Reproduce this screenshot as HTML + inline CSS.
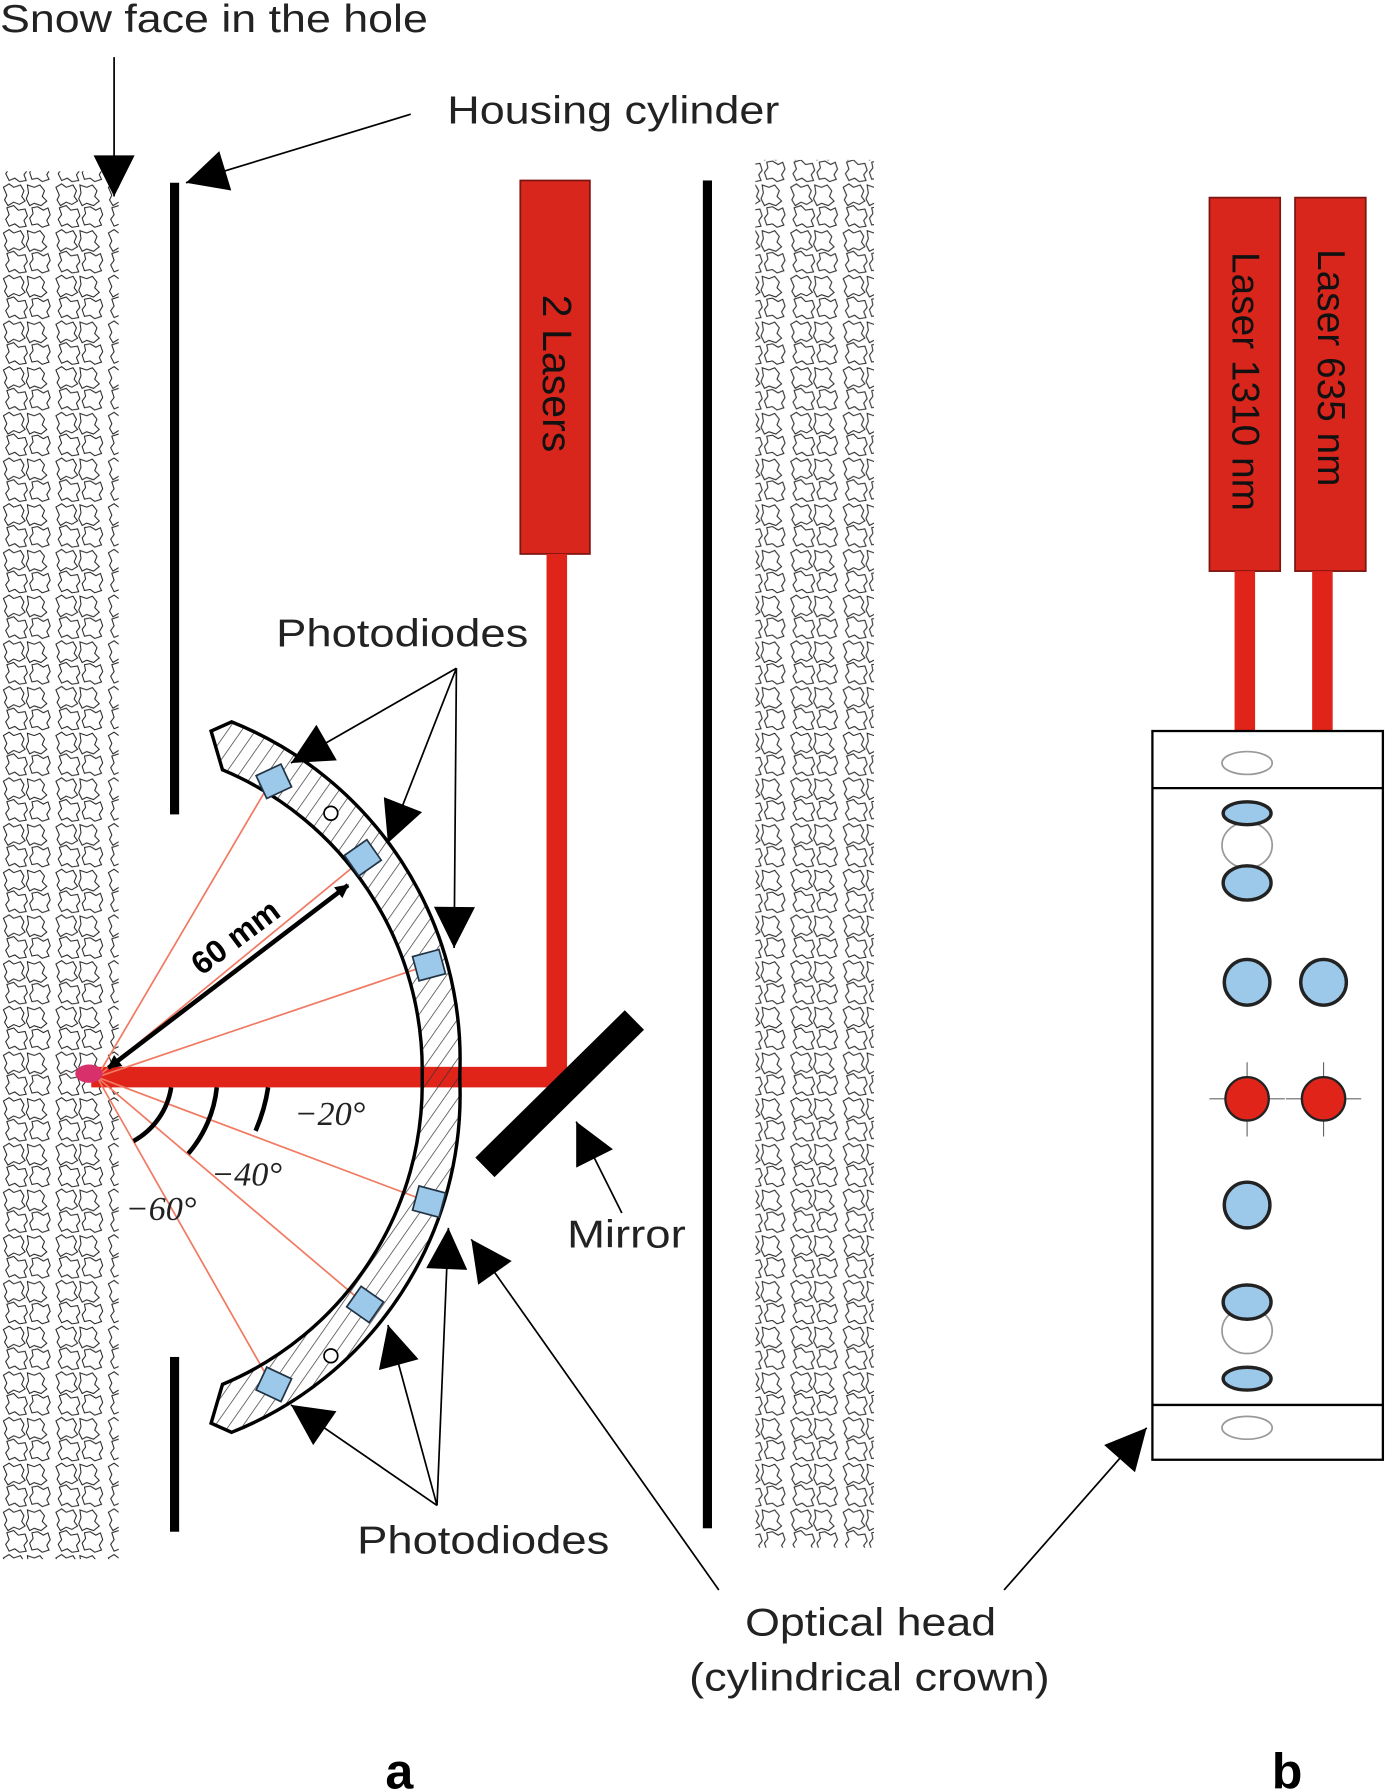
<!DOCTYPE html>
<html><head><meta charset="utf-8"><style>html,body{margin:0;padding:0;background:#fff}svg{display:block}</style></head>
<body>
<svg width="1400" height="1791" viewBox="0 0 1227 1568" preserveAspectRatio="none" xmlns="http://www.w3.org/2000/svg" font-family="Liberation Sans, sans-serif">
<defs>
<pattern id="snow" width="46" height="40" patternUnits="userSpaceOnUse">
<path d="M3 4 l5 -3 l4 3 l6 -2 l3 5 l-2 5 l3 4 l-5 3 l-5 -2 l-5 3 l-3 -5 l2 -4 z" fill="none" stroke="#222" stroke-width="0.9"/>
<path d="M24 2 l6 2 l5 -2 l4 5 l-2 5 l4 4 l-5 4 l-6 -2 l-4 2 l-3 -6 l2 -5 z" fill="none" stroke="#222" stroke-width="0.9"/>
<path d="M6 22 l6 -2 l4 4 l6 -1 l2 6 l-3 4 l2 5 l-6 1 l-4 -3 l-5 2 l-3 -6 l3 -4 z" fill="none" stroke="#222" stroke-width="0.9"/>
<path d="M28 22 l5 -1 l5 3 l4 -2 l2 6 l-3 5 l2 4 l-6 2 l-4 -3 l-5 1 l-2 -6 l3 -4 z" fill="none" stroke="#222" stroke-width="0.9"/>
</pattern>
<pattern id="hatch" width="10" height="10" patternUnits="userSpaceOnUse" patternTransform="rotate(35)">
<line x1="0" y1="0" x2="0" y2="10" stroke="#333" stroke-width="1.2"/>
</pattern>
<marker id="ah" viewBox="0 0 10 10" refX="9" refY="5" markerWidth="14" markerHeight="12" orient="auto-start-reverse" markerUnits="userSpaceOnUse"><path d="M0 0 L10 5 L0 10 z" fill="#000"/></marker>
<marker id="big" viewBox="0 0 10 10" refX="10" refY="5" markerWidth="40" markerHeight="36" orient="auto" markerUnits="userSpaceOnUse"><path d="M0 0 L10 5 L0 10 z" fill="#000"/></marker>
</defs>
<rect width="1227" height="1568" fill="#fff"/>
<rect x="2" y="150" width="102" height="1215" fill="url(#snow)"/>
<rect x="662" y="140" width="104" height="1215" fill="url(#snow)"/>
<rect x="149" y="160" width="8" height="553" fill="#000"/>
<rect x="149" y="1188" width="8" height="153" fill="#000"/>
<rect x="616" y="158" width="8" height="1180" fill="#000"/>
<rect x="456" y="158" width="61" height="327" fill="#d8261c" stroke="#7a1510" stroke-width="1.5"/>
<text transform="translate(476,327) rotate(90)" text-anchor="middle" font-size="36" fill="#111">2 Lasers</text>
<rect x="479" y="485" width="18" height="467" fill="#e0241a"/>
<rect x="80" y="934" width="417" height="18" fill="#e0241a"/>
<g stroke="#f07a62" stroke-width="1.5">
<line x1="85" y1="943" x2="238" y2="683"/><line x1="85" y1="943" x2="318" y2="752"/><line x1="85" y1="943" x2="375" y2="845"/>
<line x1="85" y1="943" x2="375" y2="1052"/><line x1="85" y1="943" x2="320" y2="1142"/><line x1="85" y1="943" x2="238" y2="1212"/>
</g>
<path d="M185 640 L203 632 A318 318 0 0 1 403 940 L403 946 A318 318 0 0 1 203 1254 L185 1246 L195 1212 A285 285 0 0 0 370 943 A285 285 0 0 0 195 674 Z" fill="url(#hatch)" stroke="#000" stroke-width="3"/>
<g fill="#9cc8ea" stroke="#234" stroke-width="1.5">
<rect x="228" y="673" width="24" height="22" transform="rotate(-25 240 684)"/>
<rect x="306" y="740" width="24" height="22" transform="rotate(-35 318 751)"/>
<rect x="364" y="834" width="24" height="22" transform="rotate(-15 376 845)"/>
<rect x="364" y="1041" width="24" height="22" transform="rotate(15 376 1052)"/>
<rect x="308" y="1131" width="24" height="22" transform="rotate(35 320 1142)"/>
<rect x="228" y="1201" width="24" height="22" transform="rotate(25 240 1212)"/>
</g>
<circle cx="290" cy="712" r="6" fill="#fff" stroke="#000" stroke-width="1.5"/>
<circle cx="290" cy="1187" r="6" fill="#fff" stroke="#000" stroke-width="1.5"/>
<line x1="425" y1="1022" x2="556" y2="893" stroke="#000" stroke-width="24"/>
<ellipse cx="78" cy="940" rx="12" ry="8" fill="#d8306a"/>
<line x1="95" y1="935" x2="305" y2="775" stroke="#000" stroke-width="4" marker-start="url(#ah)" marker-end="url(#ah)"/>
<text transform="translate(212,828) rotate(-37)" text-anchor="middle" font-size="28" font-weight="bold">60 mm</text>
<g fill="none" stroke="#000" stroke-width="4">
<path d="M150 952 A65 65 0 0 1 117 999"/>
<path d="M190 952 A105 105 0 0 1 165 1010"/>
<path d="M235 952 A150 150 0 0 1 224 990"/>
</g>
<g font-family="Liberation Serif, serif" font-style="italic" font-size="30" fill="#222">
<text x="258" y="985">−20°</text><text x="185" y="1038">−40°</text><text x="110" y="1068">−60°</text>
</g>
<g font-size="34" fill="#222">
<text x="0" y="28" textLength="375" lengthAdjust="spacingAndGlyphs">Snow face in the hole</text>
<text x="392" y="108" textLength="291" lengthAdjust="spacingAndGlyphs">Housing cylinder</text>
<text x="242" y="566" textLength="221" lengthAdjust="spacingAndGlyphs">Photodiodes</text>
<text x="313" y="1360" textLength="221" lengthAdjust="spacingAndGlyphs">Photodiodes</text>
<text x="497" y="1092" textLength="104" lengthAdjust="spacingAndGlyphs">Mirror</text>
<text x="653" y="1432" textLength="220" lengthAdjust="spacingAndGlyphs">Optical head</text>
<text x="604" y="1480" textLength="316" lengthAdjust="spacingAndGlyphs">(cylindrical crown)</text>
</g>
<text x="350" y="1566" text-anchor="middle" font-size="44" font-weight="bold">a</text>
<text x="1128" y="1566" text-anchor="middle" font-size="44" font-weight="bold">b</text>
<g stroke="#000" stroke-width="1.5" fill="none">
<line x1="100" y1="50" x2="100" y2="172" marker-end="url(#big)"/>
<line x1="360" y1="100" x2="163" y2="160" marker-end="url(#big)"/>
<line x1="400" y1="585" x2="255" y2="668" marker-end="url(#big)"/>
<line x1="400" y1="585" x2="340" y2="738" marker-end="url(#big)"/>
<line x1="400" y1="585" x2="398" y2="830" marker-end="url(#big)"/>
<line x1="383" y1="1318" x2="255" y2="1230" marker-end="url(#big)"/>
<line x1="383" y1="1318" x2="340" y2="1160" marker-end="url(#big)"/>
<line x1="383" y1="1318" x2="393" y2="1075" marker-end="url(#big)"/>
<line x1="545" y1="1062" x2="505" y2="982" marker-end="url(#big)"/>
<line x1="630" y1="1392" x2="413" y2="1085" marker-end="url(#big)"/>
<line x1="880" y1="1392" x2="1005" y2="1250" marker-end="url(#big)"/>
</g>
<rect x="1060" y="173" width="62" height="327" fill="#d8261c" stroke="#7a1510" stroke-width="1.5"/>
<rect x="1135" y="173" width="62" height="327" fill="#d8261c" stroke="#7a1510" stroke-width="1.5"/>
<text transform="translate(1080,334) rotate(90)" text-anchor="middle" font-size="34" fill="#111">Laser 1310 nm</text>
<text transform="translate(1155,322) rotate(90)" text-anchor="middle" font-size="34" fill="#111">Laser 635 nm</text>
<rect x="1082" y="500" width="18" height="140" fill="#e0241a"/>
<rect x="1150" y="500" width="18" height="140" fill="#e0241a"/>
<rect x="1010" y="640" width="202" height="638" fill="#fff" stroke="#000" stroke-width="2"/>
<line x1="1010" y1="690" x2="1212" y2="690" stroke="#000" stroke-width="2"/>
<line x1="1010" y1="1230" x2="1212" y2="1230" stroke="#000" stroke-width="2"/>
<g stroke="#999" fill="none" stroke-width="1.5">
<ellipse cx="1093" cy="668" rx="22" ry="10"/><ellipse cx="1093" cy="1250" rx="22" ry="10"/>
<ellipse cx="1093" cy="740" rx="22" ry="20"/><ellipse cx="1093" cy="1165" rx="22" ry="20"/>
</g>
<g fill="#9cc8ea" stroke="#222" stroke-width="3">
<ellipse cx="1093" cy="712" rx="21" ry="10"/><ellipse cx="1093" cy="773" rx="21" ry="15"/>
<circle cx="1093" cy="860" r="20"/><circle cx="1160" cy="860" r="20"/>
<circle cx="1093" cy="1055" r="20"/>
<ellipse cx="1093" cy="1140" rx="21" ry="15"/><ellipse cx="1093" cy="1207" rx="21" ry="10"/>
</g>
<g stroke="#666" stroke-width="1">
<line x1="1060" y1="962" x2="1126" y2="962"/><line x1="1093" y1="930" x2="1093" y2="995"/>
<line x1="1127" y1="962" x2="1193" y2="962"/><line x1="1160" y1="930" x2="1160" y2="995"/>
</g>
<circle cx="1093" cy="962" r="19" fill="#e0241a" stroke="#222" stroke-width="2"/>
<circle cx="1160" cy="962" r="19" fill="#e0241a" stroke="#222" stroke-width="2"/>
</svg>
</body></html>
